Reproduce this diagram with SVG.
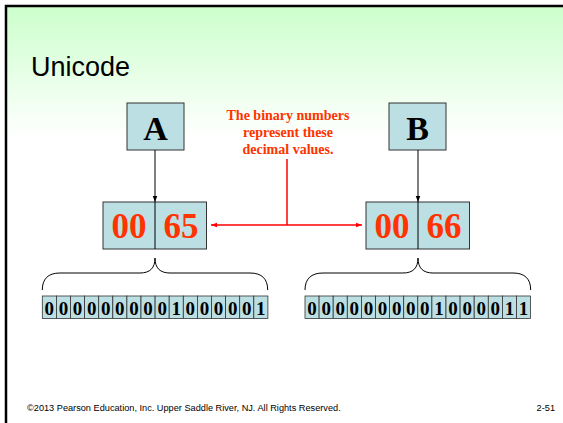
<svg xmlns="http://www.w3.org/2000/svg" width="563" height="423" viewBox="0 0 563 423">
<defs>
<linearGradient id="bg" x1="0" y1="0" x2="0" y2="1">
<stop offset="0" stop-color="#ccffcc"/>
<stop offset="0.3" stop-color="#ffffff"/>
<stop offset="1" stop-color="#ffffff"/>
</linearGradient>
<marker id="ab" viewBox="0 0 8 8" refX="8" refY="4" markerWidth="6" markerHeight="6" orient="auto" markerUnits="userSpaceOnUse">
<path d="M0,1 L8,4 L0,7 Z" fill="#000"/>
</marker>
<marker id="ar" viewBox="0 0 8 8" refX="8" refY="4" markerWidth="6" markerHeight="6" orient="auto-start-reverse" markerUnits="userSpaceOnUse">
<path d="M0,1 L8,4 L0,7 Z" fill="#ff0000"/>
</marker>
</defs>
<style>
.box{fill:#bbdfe3;stroke:#333;stroke-width:1}
.cell{fill:#bbdfe3;stroke:#333;stroke-width:0.8}
.letter{font-family:"Liberation Serif",serif;font-weight:bold;font-size:34px;fill:#000;text-anchor:middle}
.num{font-family:"Liberation Serif",serif;font-weight:bold;font-size:35px;fill:#ff3300;text-anchor:middle}
.bit{font-family:"Liberation Serif",serif;font-weight:bold;font-size:19px;fill:#000;text-anchor:middle}
.note{font-family:"Liberation Serif",serif;font-weight:bold;font-size:14px;fill:#ff3300;text-anchor:middle}
.brace{fill:none;stroke:#000;stroke-width:1}
.foot{font-family:"Liberation Sans",Arial,sans-serif;font-size:9.2px;fill:#000}
</style>
<rect x="0" y="0" width="563" height="423" fill="#fff"/>
<rect x="6" y="6" width="600" height="440" fill="url(#bg)" stroke="#000" stroke-width="2.5"/>
<text x="31" y="76" font-family="Liberation Sans,Arial,sans-serif" font-size="27" fill="#000">Unicode</text>

<g id="charA">
<rect class="box" x="127" y="103" width="57" height="47"/>
<text class="letter" x="155.5" y="140">A</text>
</g>
<g id="charB">
<rect class="box" x="389" y="103" width="57" height="47"/>
<text class="letter" x="417.5" y="140">B</text>
</g>
<g id="note">
<text class="note" x="288" y="120">The binary numbers</text>
<text class="note" x="288" y="137">represent these</text>
<text class="note" x="288" y="154">decimal values.</text>
</g>
<g id="codeA">
<rect class="box" x="103" y="202" width="103.5" height="47"/>
<line x1="155" y1="202" x2="155" y2="249" stroke="#000" stroke-width="1"/>
<text class="num" x="129" y="238">00</text>
<text class="num" x="181" y="238">65</text>
</g>
<g id="codeB">
<rect class="box" x="366" y="202" width="103.5" height="47"/>
<line x1="418" y1="202" x2="418" y2="249" stroke="#000" stroke-width="1"/>
<text class="num" x="392" y="238">00</text>
<text class="num" x="444" y="238">66</text>
</g>
<g id="bitsA">
<rect class="cell" x="42.3" y="296" width="14.1" height="22.5"/><rect class="cell" x="56.4" y="296" width="14.1" height="22.5"/><rect class="cell" x="70.5" y="296" width="14.1" height="22.5"/><rect class="cell" x="84.6" y="296" width="14.1" height="22.5"/><rect class="cell" x="98.7" y="296" width="14.1" height="22.5"/><rect class="cell" x="112.8" y="296" width="14.1" height="22.5"/><rect class="cell" x="126.9" y="296" width="14.1" height="22.5"/><rect class="cell" x="141" y="296" width="14.1" height="22.5"/><rect class="cell" x="155.1" y="296" width="14.1" height="22.5"/><rect class="cell" x="169.2" y="296" width="14.1" height="22.5"/><rect class="cell" x="183.3" y="296" width="14.1" height="22.5"/><rect class="cell" x="197.4" y="296" width="14.1" height="22.5"/><rect class="cell" x="211.5" y="296" width="14.1" height="22.5"/><rect class="cell" x="225.6" y="296" width="14.1" height="22.5"/><rect class="cell" x="239.7" y="296" width="14.1" height="22.5"/><rect class="cell" x="253.8" y="296" width="14.1" height="22.5"/>
<text class="bit" y="314.5"><tspan x="49.35">0</tspan><tspan x="63.45">0</tspan><tspan x="77.55">0</tspan><tspan x="91.65">0</tspan><tspan x="105.75">0</tspan><tspan x="119.85">0</tspan><tspan x="133.95">0</tspan><tspan x="148.05">0</tspan><tspan x="162.15">0</tspan><tspan x="176.25">1</tspan><tspan x="190.35">0</tspan><tspan x="204.45">0</tspan><tspan x="218.55">0</tspan><tspan x="232.65">0</tspan><tspan x="246.75">0</tspan><tspan x="260.85">1</tspan></text>
</g>
<g id="bitsB">
<rect class="cell" x="305" y="296" width="14.1" height="22.5"/><rect class="cell" x="319.1" y="296" width="14.1" height="22.5"/><rect class="cell" x="333.2" y="296" width="14.1" height="22.5"/><rect class="cell" x="347.3" y="296" width="14.1" height="22.5"/><rect class="cell" x="361.4" y="296" width="14.1" height="22.5"/><rect class="cell" x="375.5" y="296" width="14.1" height="22.5"/><rect class="cell" x="389.6" y="296" width="14.1" height="22.5"/><rect class="cell" x="403.7" y="296" width="14.1" height="22.5"/><rect class="cell" x="417.8" y="296" width="14.1" height="22.5"/><rect class="cell" x="431.9" y="296" width="14.1" height="22.5"/><rect class="cell" x="446" y="296" width="14.1" height="22.5"/><rect class="cell" x="460.1" y="296" width="14.1" height="22.5"/><rect class="cell" x="474.2" y="296" width="14.1" height="22.5"/><rect class="cell" x="488.3" y="296" width="14.1" height="22.5"/><rect class="cell" x="502.4" y="296" width="14.1" height="22.5"/><rect class="cell" x="516.5" y="296" width="14.1" height="22.5"/>
<text class="bit" y="314.5"><tspan x="312.05">0</tspan><tspan x="326.15">0</tspan><tspan x="340.25">0</tspan><tspan x="354.35">0</tspan><tspan x="368.45">0</tspan><tspan x="382.55">0</tspan><tspan x="396.65">0</tspan><tspan x="410.75">0</tspan><tspan x="424.85">0</tspan><tspan x="438.95">1</tspan><tspan x="453.05">0</tspan><tspan x="467.15">0</tspan><tspan x="481.25">0</tspan><tspan x="495.35">0</tspan><tspan x="509.45">1</tspan><tspan x="523.55">1</tspan></text>
</g>
<g id="connectors">
<line x1="155" y1="150" x2="155" y2="202" stroke="#000" stroke-width="1" marker-end="url(#ab)"/>
<line x1="418" y1="150" x2="418" y2="202" stroke="#000" stroke-width="1" marker-end="url(#ab)"/>
<line x1="287" y1="159" x2="287" y2="225" stroke="#ff0000" stroke-width="1.5"/>
<line x1="211" y1="225" x2="362" y2="225" stroke="#ff0000" stroke-width="1.5" marker-start="url(#ar)" marker-end="url(#ar)"/>
<path class="brace" d="M42.3,290 C42.3,279 48,273 60,273 L140,273 C150,273 155,268 155,258 C155,268 160,273 170,273 L250,273 C262,273 267.7,279 267.7,290"/>
<path class="brace" d="M305,290 C305,279 311,273 323,273 L403,273 C413,273 418,268 418,258 C418,268 423,273 433,273 L513,273 C525,273 530.7,279 530.7,290"/>
</g>
<text class="foot" x="27" y="411">©2013 Pearson Education, Inc. Upper Saddle River, NJ. All Rights Reserved.</text>
<text class="foot" x="555" y="411" text-anchor="end">2-51</text>
</svg>
